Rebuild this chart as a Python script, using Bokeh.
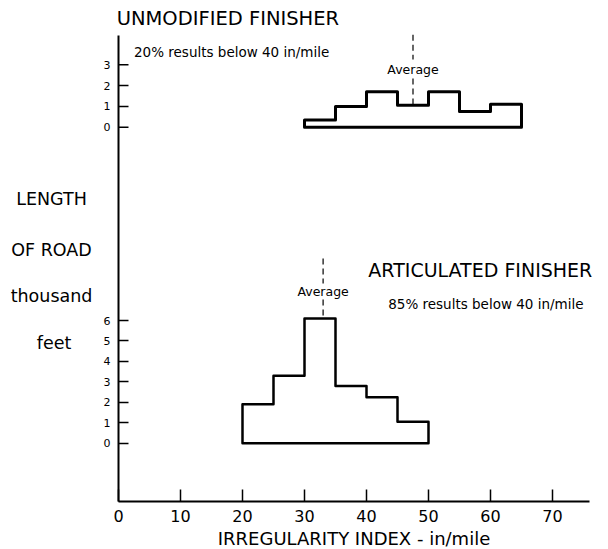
from bokeh.plotting import figure
from bokeh.models import Range1d, FixedTicker, Label, LabelSet, ColumnDataSource
from bokeh.core.properties import value
from bokeh.embed import file_html
from bokeh.resources import INLINE

# ---- data ----
x_ticks = [0, 10, 20, 30, 40, 50, 60, 70]

unmod_edges = [30, 35, 40, 45, 50, 55, 60, 65]          # in/mile
unmod_length = [0.35, 1.0, 1.7, 1.05, 1.7, 0.75, 1.1]   # thousand feet
unmod_average = 47.5
unmod_ticks = [0, 1, 2, 3]

art_edges = [20, 25, 30, 35, 40, 45, 50]
art_length = [1.9, 3.3, 6.1, 2.8, 2.25, 1.05]
art_average = 33
art_ticks = [0, 1, 2, 3, 4, 5, 6]

FONT = "DejaVu Sans"


def outline(edges, heights):
    xs, ys = [edges[0]], [0]
    for i, h in enumerate(heights):
        xs += [edges[i], edges[i + 1]]
        ys += [h, h]
    xs.append(edges[-1])
    ys.append(0)
    return xs, ys


p = figure(width=608, height=549,
           x_range=Range1d(-19.032, 79.032), y_range=Range1d(-5.198, 21.648),
           output_backend="svg", toolbar_location=None,
           min_border_left=0, min_border_right=0, min_border_top=0, min_border_bottom=0)
p.extra_y_ranges = {"upper": Range1d(-20.303, 6.091)}
p.outline_line_color = None
p.grid.visible = False
p.background_fill_color = "white"
p.border_fill_color = "white"

# x axis, placed inside the frame
xa = p.xaxis[0]
xa.fixed_location = -2.851
xa.bounds = (0, 76)
xa.ticker = FixedTicker(ticks=x_ticks)
xa.major_tick_in = 12
xa.major_tick_out = 0
xa.minor_tick_line_color = None
xa.axis_line_width = 2
xa.major_tick_line_width = 1.5
xa.major_label_text_font = FONT
xa.major_label_text_font_size = "16px"
xa.major_label_text_color = "black"
xa.major_label_standoff = 8
xa.axis_label = "IRREGULARITY INDEX - in/mile"
xa.axis_label_text_font = FONT
xa.axis_label_text_font_style = "normal"
xa.axis_label_text_font_size = "18px"
xa.axis_label_text_color = "black"
xa.axis_label_standoff = 3

# y axis (articulated finisher scale), placed inside the frame
ya = p.yaxis[0]
ya.fixed_location = 0
ya.bounds = (-2.851, 19.936)
ya.ticker = FixedTicker(ticks=art_ticks)
ya.major_tick_in = 10
ya.major_tick_out = 0
ya.minor_tick_line_color = None
ya.axis_line_width = 2
ya.major_tick_line_width = 1.5
ya.major_label_text_font = FONT
ya.major_label_text_font_size = "11px"
ya.major_label_text_color = "black"
ya.major_label_standoff = 8

# upper scale ticks (unmodified finisher)
p.ray(x=[0] * len(unmod_ticks), y=unmod_ticks, length=10, angle=0, length_units="screen",
      line_color="black", line_width=1.5, y_range_name="upper")
up_src = ColumnDataSource(dict(x=[0] * len(unmod_ticks), y=unmod_ticks,
                               t=[str(t) for t in unmod_ticks]))
p.add_layout(LabelSet(x="x", y="y", text="t", source=up_src, y_range_name="upper",
                      x_offset=-8, text_align="right", text_baseline="middle",
                      text_font=value(FONT), text_font_size=value("11px"),
                      text_color="black"))

# histograms
ux, uy = outline(unmod_edges, unmod_length)
p.patch(ux, uy, fill_color=None, line_color="black", line_width=3,
        line_join="round", y_range_name="upper")
ax_, ay_ = outline(art_edges, art_length)
p.patch(ax_, ay_, fill_color=None, line_color="black", line_width=2.5,
        line_join="round")

# average markers
p.segment(x0=[unmod_average, unmod_average], y0=[4.45, 2.34],
          x1=[unmod_average, unmod_average], y1=[3.25, unmod_length[3]],
          line_color="black", line_width=1.2, line_dash="6 4", y_range_name="upper")
p.segment(x0=[art_average, art_average], y0=[9.03, 7.03],
          x1=[art_average, art_average], y1=[7.81, art_length[2]],
          line_color="black", line_width=1.2, line_dash="6 4")


def lab(text, x, y, size, align="left", rng="default"):
    p.add_layout(Label(x=x, y=y, text=text, text_font=FONT, text_font_size=size,
                       text_align=align, text_baseline="middle", text_color="black",
                       y_range_name=rng))


lab("UNMODIFIED FINISHER", -0.3, 5.23, "19.5px", rng="upper")
lab("20% results below 40 in/mile", 2.5, 3.61, "13.5px", rng="upper")
lab("Average", unmod_average, 2.76, "12.5px", align="center", rng="upper")

lab("ARTICULATED FINISHER", 40.3, 8.45, "19px")
lab("85% results below 40 in/mile", 43.5, 6.83, "13.5px")
lab("Average", art_average, 7.44, "12.5px", align="center")

lab("LENGTH", -10.8, 11.92, "17.5px", align="center")
lab("OF ROAD", -10.8, 9.47, "17.5px", align="center")
lab("thousand", -10.8, 7.19, "17.5px", align="center")
lab("feet", -10.4, 4.89, "17.5px", align="center")

open("out.html", "w").write(file_html(p, INLINE))
